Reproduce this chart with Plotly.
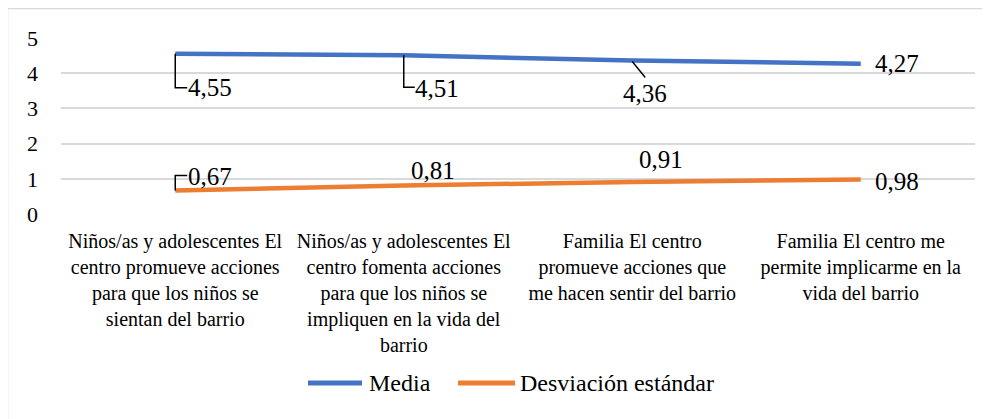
import plotly.graph_objects as go

categories = [
    "Niños/as y adolescentes El<br>centro promueve acciones<br>para que los niños se<br>sientan del barrio",
    "Niños/as y adolescentes El<br>centro fomenta acciones<br>para que los niños se<br>impliquen en la vida del<br>barrio",
    "Familia El centro<br>promueve acciones que<br>me hacen sentir del barrio",
    "Familia El centro me<br>permite implicarme en la<br>vida del barrio",
]
media = [4.55, 4.51, 4.36, 4.27]
desv = [0.67, 0.81, 0.91, 0.98]
series_names = ["Media", "Desviación estándar"]
y_ticks = [0, 1, 2, 3, 4, 5]

BLUE = "#4472C4"
ORANGE = "#ED7D31"
FONT = "Liberation Serif"

OFF = 8  # page body margin
W, H = 990 - OFF, 419 - OFF
ML, MR, MT, MB = 61 - OFF, 15, 38 - OFF, 205
pw = W - ML - MR
ph = H - MT - MB


def px(wx):
    """window x pixel -> paper x"""
    return (wx - OFF - ML) / pw


def py(wy):
    """window y pixel -> paper y"""
    return (H - MB - (wy - OFF)) / ph


x = list(range(len(categories)))

fig = go.Figure()
fig.add_trace(go.Scatter(x=x, y=media, mode="lines", name=series_names[0],
                         line=dict(color=BLUE, width=4.5), showlegend=False))
fig.add_trace(go.Scatter(x=x, y=desv, mode="lines", name=series_names[1],
                         line=dict(color=ORANGE, width=4.5), showlegend=False))


def fmt(v):
    return f"{v:.2f}".replace(".", ",")


# label offsets (px, y down) and leader line paths (px relative to point, y up)
media_off = [(35, 34), (33, 33), (13, 33), (36, 0)]
desv_off = [(35, -14), (29, -15), (29, -22), (36, 2)]
media_leader = ["M0,0 L0,-34 L12,-34", "M0,0 L0,-32 L11,-32", "M0,-1 L13,-17", None]
desv_leader = ["M0,0 L0,15 L12,15", None, None, None]

for series, offs, leaders in ((media, media_off, media_leader), (desv, desv_off, desv_leader)):
    for i, v in enumerate(series):
        dx, dy = offs[i]
        fig.add_annotation(x=x[i], y=v, text=fmt(v), showarrow=False,
                           xshift=dx, yshift=-dy,
                           font=dict(family=FONT, size=25, color="black"))
        if leaders[i]:
            fig.add_shape(type="path", xref="x", yref="y",
                          xsizemode="pixel", ysizemode="pixel",
                          xanchor=x[i], yanchor=v, path=leaders[i],
                          line=dict(color="black", width=1.5))

# outer chart border (left/top visible)
fig.add_shape(type="rect", xref="paper", yref="paper", layer="below",
              x0=px(7.5), x1=px(1000), y0=py(430), y1=py(8.5),
              line=dict(color="#D9D9D9", width=1.5), fillcolor="rgba(0,0,0,0)")

# legend (drawn manually to match line-sample lengths)
legend_items = [(series_names[0], BLUE, 308, 362, 367), (series_names[1], ORANGE, 458, 515, 518)]
for name, col, lx0, lx1, tx in legend_items:
    fig.add_shape(type="line", xref="paper", yref="paper",
                  x0=px(lx0), x1=px(lx1), y0=py(383), y1=py(383),
                  line=dict(color=col, width=5))
    fig.add_annotation(xref="paper", yref="paper", x=px(tx), y=py(383),
                       xanchor="left", yanchor="middle", showarrow=False,
                       text=name, font=dict(family=FONT, size=24, color="black"))

fig.update_layout(
    width=W, height=H,
    margin=dict(l=ML, r=MR, t=MT, b=MB, autoexpand=False),
    paper_bgcolor="white", plot_bgcolor="white",
    font=dict(family=FONT, size=20, color="black"),
    showlegend=False,
    xaxis=dict(range=[-0.5, 3.5], tickvals=x, ticktext=categories,
               showgrid=False, zeroline=False, showline=False, ticks="",
               tickfont=dict(family=FONT, size=20, color="black"), ticklabelstandoff=13,
               fixedrange=True),
    yaxis=dict(range=[0, 5], tickvals=y_ticks, showgrid=True,
               gridcolor="#D9D9D9", gridwidth=1.5, zeroline=False,
               showline=False, ticks="", tickfont=dict(family=FONT, size=22, color="black"),
               ticklabelstandoff=22, fixedrange=True),
)

fig.write_html("out.html")
